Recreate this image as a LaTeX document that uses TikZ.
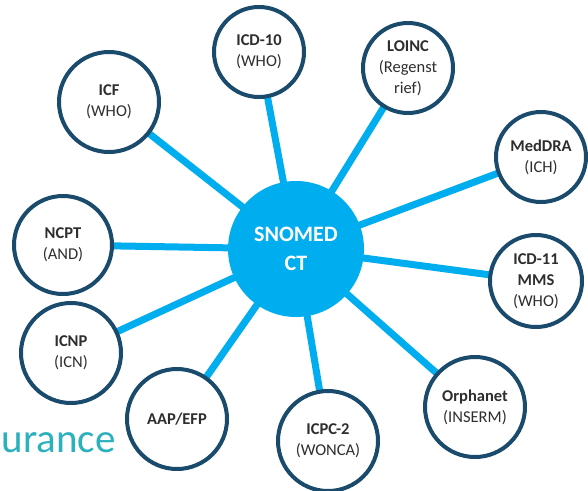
\documentclass[tikz,border=0pt]{standalone}
\usepackage{fontspec}
\setmainfont{Carlito}
\usetikzlibrary{positioning,backgrounds}
\definecolor{navy}{HTML}{1A4A6C}
\definecolor{sky}{HTML}{00AEEF}
\definecolor{teal}{HTML}{2BB0BD}
\definecolor{ink}{HTML}{2E2E2E}
\begin{document}
\begin{tikzpicture}[x=1pt,y=-1pt,
  term/.style={draw=navy,line width=4pt,fill=white,circle,inner sep=0pt,
    minimum size=#1,align=center,text=ink,font=\fontsize{16.5}{21}\selectfont},
  term/.default=100pt,
  hub/.style={circle,fill=sky,inner sep=0pt,minimum size=136pt,align=center,
    text=white,font=\bfseries\fontsize{22}{29}\selectfont},
  link/.style={sky,line width=7pt}]
  \useasboundingbox (0,0) rectangle (588,490);
  \clip (0,0) rectangle (588,490);
  \node[anchor=base west,text=teal,font=\fontsize{41}{41}\selectfont] (brand) at (-2,452) {urance};

  \node[hub] (snomed) at (296,249) {SNOMED\\CT};
  \node[term=90pt] (icdten) at (259,52) {\textbf{ICD-10}\\(WHO)};
  \node[term=90pt] (loinc) at (408,68) {\textbf{LOINC}\\(Regenst\\rief)};
  \node[term] (icf) at (109,102) {\textbf{ICF}\\(WHO)};
  \node[term=90pt] (meddra) at (541,157) {\textbf{MedDRA}\\(ICH)};
  \node[term=98pt] (ncpt) at (63,245) {\textbf{NCPT}\\(AND)};
  \node[term=92pt] (icdeleven) at (536,281) {\textbf{ICD-11}\\\textbf{MMS}\\(WHO)};
  \node[term] (icnp) at (71,353) {\textbf{ICNP}\\(ICN)};
  \node[term] (aap) at (177,419) {\textbf{AAP/EFP}};
  \node[term] (icpc) at (328,441) {\textbf{ICPC-2}\\(WONCA)};
  \node[term] (orphanet) at (475,407) {\textbf{Orphanet}\\(INSERM)};

  % spokes from the hub
  \begin{scope}[on background layer]
    \fill[white] (0,0) rectangle (588,490);
    \foreach \t in {icdten,loinc,icf,meddra,ncpt,icdeleven,icnp,aap,icpc,orphanet}
      \draw[link] (snomed.center) -- (\t.center);
  \end{scope}
\end{tikzpicture}
\end{document}
